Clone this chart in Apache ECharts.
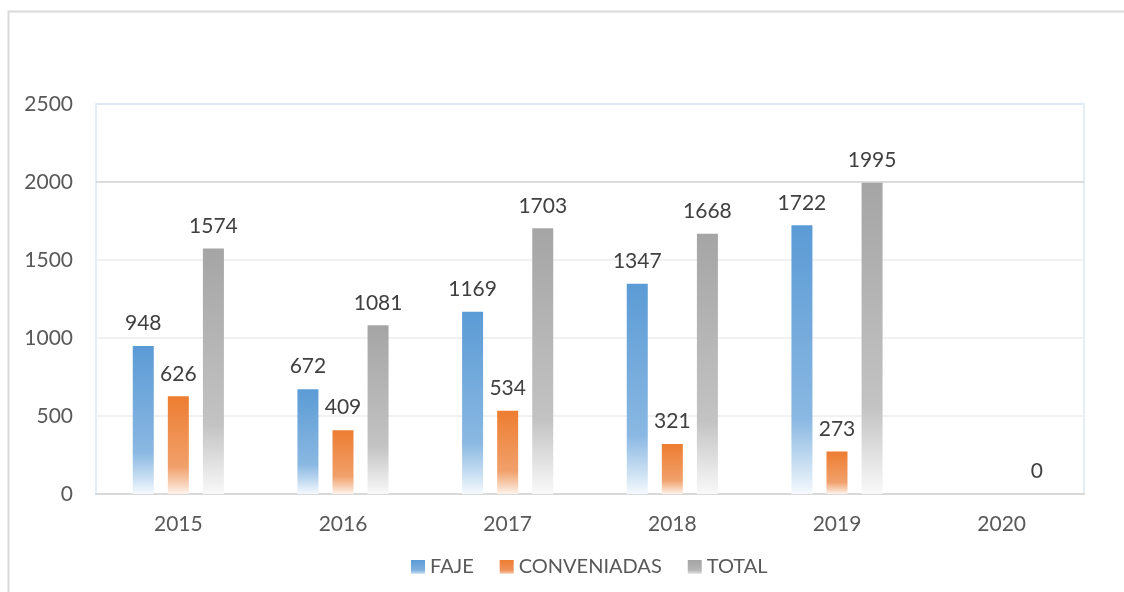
<!DOCTYPE html>
<html><head><meta charset="utf-8">
<script src="https://cdn.jsdelivr.net/npm/echarts@6/dist/echarts.min.js"></script>
<style>html,body{margin:0;padding:0;background:#fff}#c{width:1124px;height:592px}</style>
</head><body><div id="c"></div>
<script>
const categories = ['2015','2016','2017','2018','2019','2020'];
const faje = [948, 672, 1169, 1347, 1722, null];
const conveniadas = [626, 409, 534, 321, 273, null];
const total = [1574, 1081, 1703, 1668, 1995, 0];
const seriesNames = ['FAJE','CONVENIADAS','TOTAL'];

function grad(c1, c2, c3, c4){
  return new echarts.graphic.LinearGradient(0,0,0,1,[
    {offset:0,color:c1},{offset:0.72,color:c2},{offset:0.88,color:c3},{offset:1,color:c4}
  ]);
}
const colors = [
  grad('#5b9bd5','#8ab8e2','#c4dcf1','#f5f9fd'),
  grad('#ed7d31','#f1a06b','#f7cdb0','#fdf3ec'),
  grad('#a5a5a5','#c3c3c3','#e2e2e2','#f9f9f9')
];
const legendColors = [
  grad('#5b9bd5','#7fb0de','#a9cbeb','#dce9f6'),
  grad('#ed7d31','#ef915a','#f4b48b','#fbe3d3'),
  grad('#a5a5a5','#b5b5b5','#cfcfcf','#ececec')
];
const FONT = 'Lato';
const chart = echarts.init(document.getElementById('c'));
function mk(name, data, i){
  return {
    name, type:'bar', data, barWidth:21, barGap:'67%',
    itemStyle:{color:colors[i]},
    label:{show:true, position:'top', distance:12, color:'#404040', fontSize:21, fontFamily:FONT},
    emphasis:{disabled:true}
  };
}
chart.setOption({
  animation:false,
  graphic:[{type:'rect', shape:{x:8.5,y:11.5,width:1130,height:600}, style:{fill:'none',stroke:'#d9d9d9',lineWidth:2}, z:-10}],
  grid:{left:96, top:104, right:40, bottom:98, show:true, borderColor:'#dde7f3', borderWidth:1.5},
  legend:{
    data:seriesNames.map((n,i)=>({name:n, itemStyle:{color:legendColors[i]}})),
    bottom:10, left:406, itemWidth:14, itemHeight:14, itemGap:26, icon:'rect',
    textStyle:{color:'#595959', fontSize:20, fontFamily:FONT}
  },
  xAxis:{
    type:'category', data:categories,
    axisLine:{lineStyle:{color:'#d9d9d9', width:2}},
    axisTick:{show:false},
    axisLabel:{color:'#595959', fontSize:21, fontFamily:FONT, margin:20}
  },
  yAxis:{
    type:'value', min:0, max:2500, interval:500,
    axisLine:{show:false}, axisTick:{show:false},
    axisLabel:{color:'#595959', fontSize:21, fontFamily:FONT, margin:23, formatter:v=>String(v)},
    splitLine:{lineStyle:{color:['#ececec','#ececec','#ececec','#ececec','#d0d0d0','#dde7f3'], width:1.5}}
  },
  series:[mk('FAJE',faje,0), mk('CONVENIADAS',conveniadas,1), mk('TOTAL',total,2)]
});
</script></body></html>
